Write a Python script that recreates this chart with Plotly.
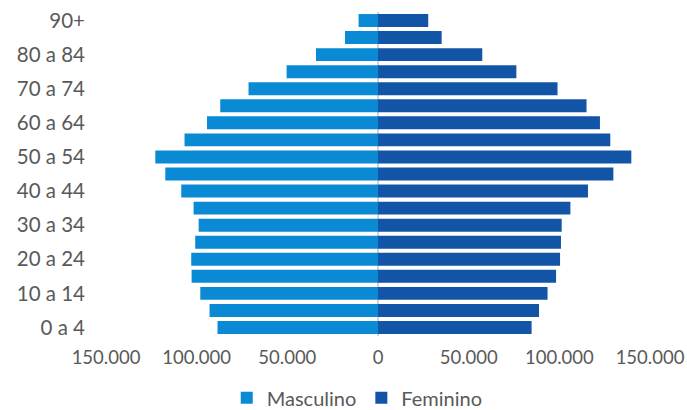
import plotly.graph_objects as go

age_groups = ["0 a 4", "5 a 9", "10 a 14", "15 a 19", "20 a 24", "25 a 29", "30 a 34",
              "35 a 39", "40 a 44", "45 a 49", "50 a 54", "55 a 59", "60 a 64", "65 a 69",
              "70 a 74", "75 a 79", "80 a 84", "85 a 89", "90+"]
masculino = [88500, 92900, 98000, 102800, 103000, 100800, 98900, 101700, 108500, 117300,
             122800, 106700, 94300, 87000, 71400, 50400, 34200, 18200, 10700]
feminino = [84700, 88800, 93500, 98200, 100400, 100900, 101300, 106100, 115800, 129800,
            139700, 128100, 122400, 115000, 99000, 76300, 57500, 35100, 27700]
tick_vals = [-150000, -100000, -50000, 0, 50000, 100000, 150000]
tick_text = ["150.000", "100.000", "50.000", "0", "50.000", "100.000", "150.000"]

font_family = "Lato, 'Open Sans', sans-serif"
text_color = "#595959"

fig = go.Figure()
fig.add_trace(go.Bar(
    y=age_groups, x=[-v for v in masculino], orientation="h", name="Masculino",
    marker=dict(color="#0A8AD4", line=dict(width=0)),
    hovertemplate="%{y}: %{customdata}<extra>Masculino</extra>", customdata=masculino,
))
fig.add_trace(go.Bar(
    y=age_groups, x=feminino, orientation="h", name="Feminino",
    marker=dict(color="#1255A6", line=dict(width=0)),
))

fig.update_layout(
    width=687, height=410,
    margin=dict(l=106, r=37, t=12, b=74, autoexpand=False),
    barmode="relative",
    bargap=0.24,
    plot_bgcolor="white", paper_bgcolor="white",
    font=dict(family=font_family, color=text_color, size=17),
    showlegend=True,
    legend=dict(orientation="h", x=0.52, xanchor="center", xref="container",
                y=0.03, yanchor="middle", yref="container",
                font=dict(size=20, color=text_color), traceorder="normal",
                itemwidth=30),
    xaxis=dict(range=[-150000, 150000], tickvals=tick_vals, ticktext=tick_text,
               showgrid=False, zeroline=True, zerolinecolor="#d3d3d3", zerolinewidth=2,
               showline=False, ticks="", tickfont=dict(size=18.5, color=text_color),
               ticklabelstandoff=8, automargin=False, fixedrange=True),
    yaxis=dict(categoryorder="array", categoryarray=age_groups,
               tickvals=age_groups[::2], ticktext=age_groups[::2],
               showgrid=False, showline=False, ticks="", ticklabelstandoff=20,
               automargin=False,
               tickfont=dict(size=20.5, color=text_color), fixedrange=True),
)

fig.write_html("out.html")
